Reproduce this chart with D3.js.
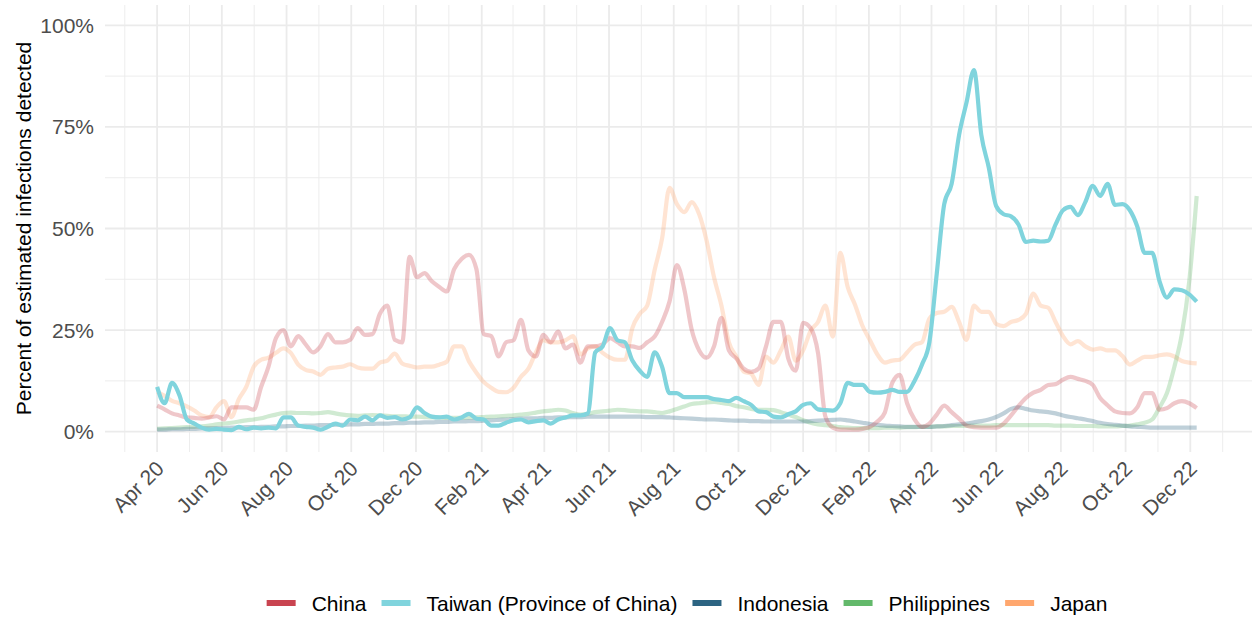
<!DOCTYPE html>
<html>
<head>
<meta charset="utf-8">
<script src="https://cdn.jsdelivr.net/npm/d3@7"></script>
<style>
  body { margin: 0; background: #fff; }
  text { font-family: "Liberation Sans", Arial, sans-serif; }
</style>
</head>
<body>
<div id="chart"></div>
<script>
// ============ DATA ============
// Weekly observations, 1 Apr 2020 to 7 Dec 2022 (percent of infections detected)
const dates = d3.utcDay.range(new Date(Date.UTC(2020, 3, 1)), new Date(Date.UTC(2022, 11, 8)), 7);

const china = [
    6.4, 5.5, 4.5, 4, 3.5, 3.4, 3.2, 3.5, 3.8, 3,
    6, 6, 6, 5.4, 11, 16, 23, 25, 21, 23.5,
    21.5, 19.5, 21, 24, 22, 22, 22.6, 25.5, 23.8, 24,
    29, 31, 22.6, 22, 43, 38, 39, 37, 35.6, 34.5,
    40, 42.5, 43.5, 40, 24, 23.5, 18.5, 22, 22.5, 27.5,
    20, 18.5, 23.8, 22, 24.6, 20.5, 21.4, 17, 21, 21,
    21.5, 23, 22, 21, 21, 20.6, 22, 23.4, 27, 32,
    41, 35, 25, 20, 18.2, 21, 28, 20, 18, 15.5,
    14.7, 15.5, 21, 27, 27, 18, 15, 26.8, 25.5, 19.4,
    3.7, 1, 0.5, 0.5, 0.5, 0.7, 1.2, 2.5, 4.7, 12,
    14, 7, 3, 1.2, 2, 4.2, 6.4, 4.8, 3.2, 1.5,
    1.1, 1, 1, 1, 2, 4, 6.3, 8.3, 9.6, 10.3,
    11.5, 11.7, 12.8, 13.5, 13, 12.5, 11.5, 8.3, 6.5, 5,
    4.6, 4.5, 6, 9.5, 9.5, 5.4, 5.8, 7, 7.5, 7, 5.8
];

const taiwan = [
    11, 7, 12, 9, 3, 2, 1, 0.5, 0.7, 0.5,
    0.4, 1.2, 0.6, 1, 0.8, 1, 0.8, 3.5, 3.5, 1.5,
    1.2, 1, 0.5, 1.2, 2, 1.5, 3, 2.8, 3.7, 2.8,
    4, 3.4, 3.6, 3, 3.5, 6, 4.6, 3.7, 3.5, 3.7,
    3, 3.5, 4.4, 3.2, 3, 1.5, 1.5, 2.2, 2.8, 3,
    2.3, 2.6, 2.8, 2, 3, 3.5, 4, 4, 4.5, 19.5,
    21, 25.5, 22.5, 22, 17.5, 15, 13.5, 19.5, 16, 9.5,
    9.5, 8.5, 8.5, 8.5, 8.5, 8, 7.8, 7.5, 8.3, 7.5,
    6.6, 5, 4.8, 3.7, 3.5, 4.3, 5, 6.6, 7, 5.5,
    5.3, 5.2, 7, 12, 11.5, 11.5, 9.8, 9.6, 9.8, 10.3,
    9.8, 9.8, 12.5, 16.5, 22, 39, 56, 61, 73, 81,
    89, 73, 65, 55.5, 53.5, 53, 51, 46.7, 47, 46.8,
    47, 51, 54.5, 55.3, 53.3, 56.5, 60.5, 58, 61, 55.8,
    56, 54.5, 50.5, 44, 44, 37, 33, 35, 34.8, 33.8, 32
];

const indonesia = [
    0.5, 0.5, 0.6, 0.6, 0.7, 0.7, 0.8, 0.8, 0.9, 0.9,
    1.0, 1.0, 1.1, 1.1, 1.2, 1.2, 1.3, 1.3, 1.4, 1.4,
    1.5, 1.5, 1.6, 1.6, 1.7, 1.7, 1.8, 1.8, 1.9, 1.9,
    2.0, 2.0, 2.1, 2.1, 2.2, 2.2, 2.3, 2.3, 2.4, 2.4,
    2.5, 2.5, 2.6, 2.6, 2.7, 2.8, 2.9, 3.0, 3.1, 3.2,
    3.3, 3.3, 3.4, 3.4, 3.5, 3.5, 3.6, 3.6, 3.7, 3.7,
    3.7, 3.7, 3.7, 3.7, 3.7, 3.7, 3.6, 3.6, 3.6, 3.5,
    3.4, 3.3, 3.2, 3.1, 3.0, 3.0, 2.9, 2.8, 2.7, 2.7,
    2.6, 2.6, 2.5, 2.5, 2.5, 2.5, 2.5, 2.5, 2.6, 2.7,
    2.8, 2.9, 3.0, 2.8, 2.5, 2.2, 1.9, 1.7, 1.5, 1.4,
    1.3, 1.2, 1.2, 1.2, 1.2, 1.3, 1.4, 1.6, 1.8, 2.0,
    2.3, 2.6, 3.0, 3.6, 4.5, 5.6, 6.0, 5.6, 5.2, 5.0,
    4.8, 4.5, 4.0, 3.6, 3.3, 3.0, 2.6, 2.2, 1.9, 1.7,
    1.5, 1.3, 1.2, 1.1, 1.0, 1.0, 1.0, 1.0, 1.0, 1.0, 1.0
];

const philippines = [
    0.7, 0.8, 0.9, 1.0, 1.1, 1.2, 1.3, 1.5, 1.8, 2.0,
    2.2, 2.5, 2.8, 3.0, 3.3, 3.8, 4.2, 4.6, 4.7, 4.6,
    4.6, 4.5, 4.6, 4.8, 4.5, 4.2, 4.0, 3.9, 4.0, 4.1,
    4.0, 3.9, 3.8, 3.8, 3.7, 3.7, 3.6, 3.5, 3.5, 3.4,
    3.4, 3.4, 3.5, 3.5, 3.6, 3.7, 3.8, 3.9, 4.0, 4.2,
    4.4, 4.7, 5.0, 5.2, 5.4, 5.2, 4.6, 4.2, 4.4, 4.8,
    5.0, 5.2, 5.4, 5.3, 5.1, 5.0, 5.0, 4.8, 4.6, 5.0,
    5.6, 6.2, 6.8, 7.0, 7.2, 7.3, 7.1, 6.8, 6.3, 6.0,
    5.6, 5.4, 5.4, 5.3, 4.8, 4.2, 3.6, 2.8, 2.2, 1.8,
    1.6, 1.4, 1.1, 1.0, 0.9, 0.9, 0.9, 0.9, 1.0, 1.0,
    1.0, 1.1, 1.1, 1.2, 1.2, 1.3, 1.3, 1.4, 1.4, 1.5,
    1.5, 1.5, 1.5, 1.6, 1.6, 1.6, 1.6, 1.6, 1.6, 1.6,
    1.6, 1.5, 1.5, 1.5, 1.4, 1.4, 1.4, 1.3, 1.3, 1.3,
    1.4, 1.5, 1.8, 2.2, 3.0, 6.0, 9.5, 16, 24, 37, 58
];

const japan = [
    9.8, 8.8, 7.6, 7, 6.2, 5.2, 4, 3.6, 6, 7.5,
    3.6, 8, 11, 16, 17.7, 18.2, 19.4, 20.5, 19.4, 16.5,
    15.2, 14.8, 14, 15.5, 15.8, 16, 16.6, 15.8, 15.5, 15.5,
    17, 17.5, 19.2, 16.8, 16.2, 15.8, 16, 16, 16.5, 17.2,
    21, 21, 17.3, 14.5, 12.2, 10.8, 9.8, 9.7, 10.8, 13.5,
    15.5, 19.5, 22.5, 22, 22, 22.5, 23.5, 19, 20.5, 21,
    19.4, 18.2, 17.7, 17.7, 25.5, 29, 31, 39.8, 47.5, 60,
    56, 54, 56.5, 53.5, 47, 38, 31, 22, 18.5, 14.8,
    14.3, 11.5, 18.5, 17, 20, 23.4, 17.5, 20, 24.8, 27,
    31, 23.4, 44, 35.6, 31.2, 26, 22.5, 19, 17, 17.5,
    17.7, 19.5, 21.4, 22, 27.8, 29.2, 29.5, 30.7, 27, 22.6,
    31, 29.5, 29.5, 26.5, 26, 27, 27.5, 29, 34, 31,
    30.5, 27, 23.5, 21.5, 22.3, 21, 20.2, 20.5, 20, 20,
    18.6, 16.5, 17.5, 18.4, 18.4, 18.8, 19, 18.5, 17.4, 17, 16.8
];

// Axis ticks
const xTickDates = ["2020-04-01", "2020-06-01", "2020-08-01", "2020-10-01", "2020-12-01",
    "2021-02-01", "2021-04-01", "2021-06-01", "2021-08-01", "2021-10-01", "2021-12-01",
    "2022-02-01", "2022-04-01", "2022-06-01", "2022-08-01", "2022-10-01", "2022-12-01"];
const xTickLabels = ["Apr 20", "Jun 20", "Aug 20", "Oct 20", "Dec 20", "Feb 21", "Apr 21",
    "Jun 21", "Aug 21", "Oct 21", "Dec 21", "Feb 22", "Apr 22", "Jun 22", "Aug 22",
    "Oct 22", "Dec 22"];
const yTicks = [0, 25, 50, 75, 100];
const yTickLabels = ["0%", "25%", "50%", "75%", "100%"];

// Series styling (Taiwan highlighted, the rest faded)
const series = [
    {name: "Japan", values: japan, color: "#ffa76e", opacity: 0.3},
    {name: "Philippines", values: philippines, color: "#63b96b", opacity: 0.3},
    {name: "Indonesia", values: indonesia, color: "#2c6482", opacity: 0.3},
    {name: "China", values: china, color: "#c94450", opacity: 0.3},
    {name: "Taiwan (Province of China)", values: taiwan, color: "#80d4dd", opacity: 1}
];
const legendOrder = ["China", "Taiwan (Province of China)", "Indonesia", "Philippines", "Japan"];

series.forEach(s => {
    if (s.values.length !== dates.length) throw new Error(s.name + " has " + s.values.length + " values, expected " + dates.length);
});

// ============ CHART ============
const W = 1252, H = 617;
const panel = {left: 105, right: 1252, top: 5, bottom: 452};
const fontSize = 21;

const svg = d3.select("#chart")
    .append("svg")
    .attr("width", W)
    .attr("height", H);

// x scale with 5% expansion around the data span
const dataStart = new Date(Date.UTC(2020, 3, 1));
const dataEnd = new Date(Date.UTC(2022, 11, 10));
const pad = (dataEnd - dataStart) * 0.05;
const x = d3.scaleUtc()
    .domain([new Date(+dataStart - pad), new Date(+dataEnd + pad)])
    .range([panel.left, panel.right]);

const y = d3.scaleLinear()
    .domain([-5, 105])
    .range([panel.bottom, panel.top]);

const xMajor = xTickDates.map(d => new Date(d + "T00:00:00Z"));
// minor breaks halfway between major breaks
const xMinor = [];
for (let i = 0; i <= xMajor.length; i++) {
    const a = i === 0 ? +xMajor[0] - (xMajor[1] - xMajor[0]) : +xMajor[i - 1];
    const b = i === xMajor.length ? +xMajor[i - 1] + (xMajor[i - 1] - xMajor[i - 2]) : +xMajor[i];
    xMinor.push(new Date((a + b) / 2));
}
const yMinor = yTicks.slice(1).map((t, i) => (t + yTicks[i]) / 2);

const grid = svg.append("g").attr("stroke", "#ebebeb").attr("fill", "none");

// Minor grid
grid.selectAll(".xminor")
    .data(xMinor.filter(d => x(d) >= panel.left && x(d) <= panel.right))
    .enter().append("line")
    .attr("x1", d => x(d)).attr("x2", d => x(d))
    .attr("y1", panel.top).attr("y2", panel.bottom)
    .attr("stroke-width", 0.9);

grid.selectAll(".yminor")
    .data(yMinor)
    .enter().append("line")
    .attr("x1", panel.left).attr("x2", panel.right)
    .attr("y1", d => y(d)).attr("y2", d => y(d))
    .attr("stroke-width", 0.9);

// Major grid
grid.selectAll(".xmajor")
    .data(xMajor)
    .enter().append("line")
    .attr("x1", d => x(d)).attr("x2", d => x(d))
    .attr("y1", panel.top).attr("y2", panel.bottom)
    .attr("stroke-width", 1.8);

grid.selectAll(".ymajor")
    .data(yTicks)
    .enter().append("line")
    .attr("x1", panel.left).attr("x2", panel.right)
    .attr("y1", d => y(d)).attr("y2", d => y(d))
    .attr("stroke-width", 1.8);

// Y tick labels
svg.append("g")
    .selectAll("text")
    .data(yTicks)
    .enter().append("text")
    .attr("x", 94)
    .attr("y", d => y(d))
    .attr("dy", "0.36em")
    .attr("text-anchor", "end")
    .attr("font-size", fontSize)
    .attr("fill", "#4d4d4d")
    .text((d, i) => yTickLabels[i]);

// X tick labels, rotated 45 degrees
svg.append("g")
    .selectAll("text")
    .data(xMajor)
    .enter().append("text")
    .attr("transform", d => `translate(${x(d) + 8},${470}) rotate(-45)`)
    .attr("text-anchor", "end")
    .attr("font-size", fontSize)
    .attr("fill", "#4d4d4d")
    .text((d, i) => xTickLabels[i]);

// Y axis title
svg.append("text")
    .attr("transform", `translate(31,${(panel.top + panel.bottom) / 2}) rotate(-90)`)
    .attr("text-anchor", "middle")
    .attr("font-size", fontSize)
    .attr("fill", "#000")
    .text("Percent of estimated infections detected");

// Lines
const line = d3.line()
    .x((d, i) => x(dates[i]))
    .y(d => y(d))
    .curve(d3.curveMonotoneX);

svg.append("g")
    .selectAll("path")
    .data(series)
    .enter().append("path")
    .attr("d", d => line(d.values))
    .attr("fill", "none")
    .attr("stroke", d => d.color)
    .attr("stroke-opacity", d => d.opacity)
    .attr("stroke-width", 4.2)
    .attr("stroke-linejoin", "round");

// Legend, centred under the panel
const legend = svg.append("g");
let cursor = 0;
legendOrder.forEach(name => {
    const s = series.find(d => d.name === name);
    const item = legend.append("g").attr("transform", `translate(${cursor},0)`);
    item.append("rect")
        .attr("x", 0)
        .attr("y", -3)
        .attr("width", 29)
        .attr("height", 6)
        .attr("fill", s.color);
    const t = item.append("text")
        .attr("x", 45)
        .attr("dy", "0.36em")
        .attr("font-size", fontSize)
        .attr("fill", "#000")
        .text(name);
    cursor += 45 + t.node().getComputedTextLength() + 15;
});
const legendWidth = cursor - 15;
legend.attr("transform", `translate(${687 - legendWidth / 2},603)`);
</script>
</body>
</html>
